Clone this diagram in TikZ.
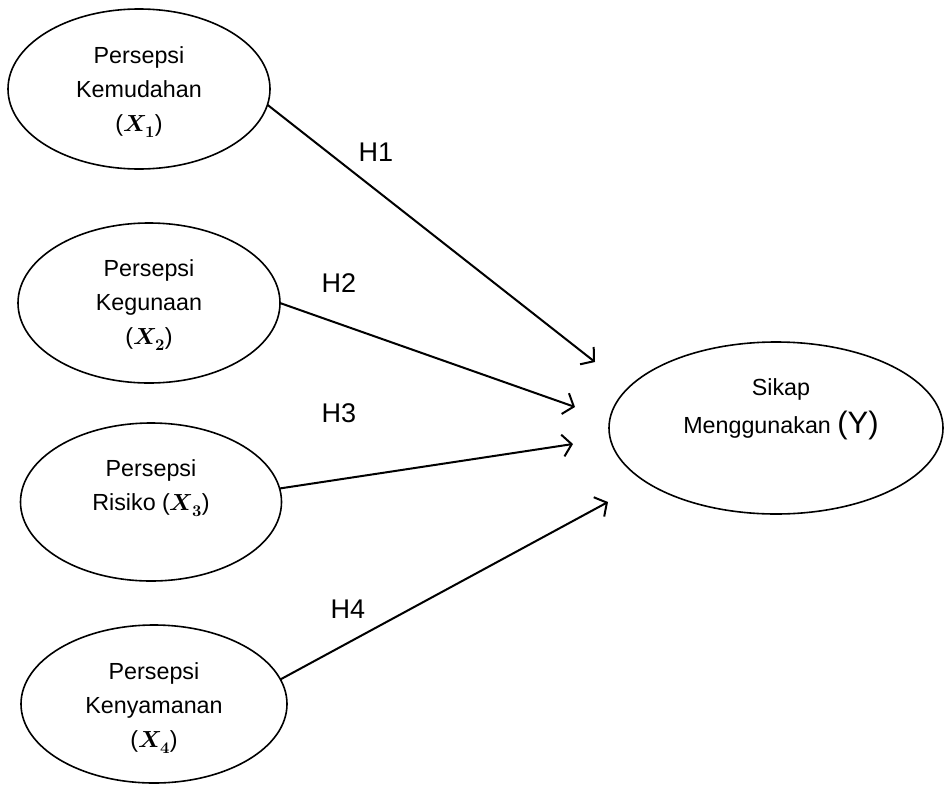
\documentclass[tikz,border=0pt]{standalone}
\usepackage{amsmath}
\usepackage{fontspec}
\usepackage{unicode-math}
\setmainfont{Liberation Sans}
\setmathfont{Latin Modern Math}
\usetikzlibrary{arrows.meta,shapes.geometric}
\newcommand{\vx}[1]{$\symbfit{X}_{\symbf{#1}}$}
\begin{document}
\begin{tikzpicture}[x=1pt,y=-1pt,
  ell/.style={draw, ellipse, line width=1.6pt, inner sep=0pt, outer sep=0pt},
  lbl/.style={font=\fontsize{23.3}{34}\selectfont, align=center, inner sep=0pt},
  hyp/.style={font=\fontsize{27}{32}\selectfont, inner sep=0pt},
  conn/.style={line width=2pt, -{Straight Barb[length=9pt,width=22pt]}}]
\useasboundingbox (0,0) rectangle (945,785);
% ellipses
\node[ell, minimum width=262pt, minimum height=160pt] (e1) at (139,89) {};
\node[ell, minimum width=262pt, minimum height=160pt] (e2) at (149,303) {};
\node[ell, minimum width=261pt, minimum height=158pt] (e3) at (151,502) {};
\node[ell, minimum width=266pt, minimum height=158pt] (e4) at (154,704) {};
\node[ell, minimum width=334pt, minimum height=172pt] (y) at (776,428) {};
% texts
\node[lbl] (t1) at (139,92) {Persepsi\\Kemudahan\\(\vx{1})};
\node[lbl] (t2) at (149,305) {Persepsi\\Kegunaan\\(\vx{2})};
\node[lbl] (t3) at (151,488) {Persepsi\\Risiko (\vx{3})};
\node[lbl] (t4) at (154,708) {Persepsi\\Kenyamanan\\(\vx{4})};
\node[lbl, font=\fontsize{23.3}{38}\selectfont] (ty) at (781,409) {Sikap\\Menggunakan {\fontsize{31}{38}\selectfont(Y)}};
% arrow tips
\coordinate (p1) at (595,362);
\coordinate (p2) at (575,407);
\coordinate (p3) at (573,444);
\coordinate (p4) at (608,502);
\draw[conn] (e1.-7) -- (p1);
\draw[conn] (e2.east) -- (p2);
\draw[conn] (e3.6) -- (p3);
\draw[conn] (e4.11) -- (p4);
% labels
\node[hyp] (h1) at (376,152) {H1};
\node[hyp] (h2) at (339,283) {H2};
\node[hyp] (h3) at (339,413) {H3};
\node[hyp] (h4) at (348,609) {H4};
\end{tikzpicture}
\end{document}
